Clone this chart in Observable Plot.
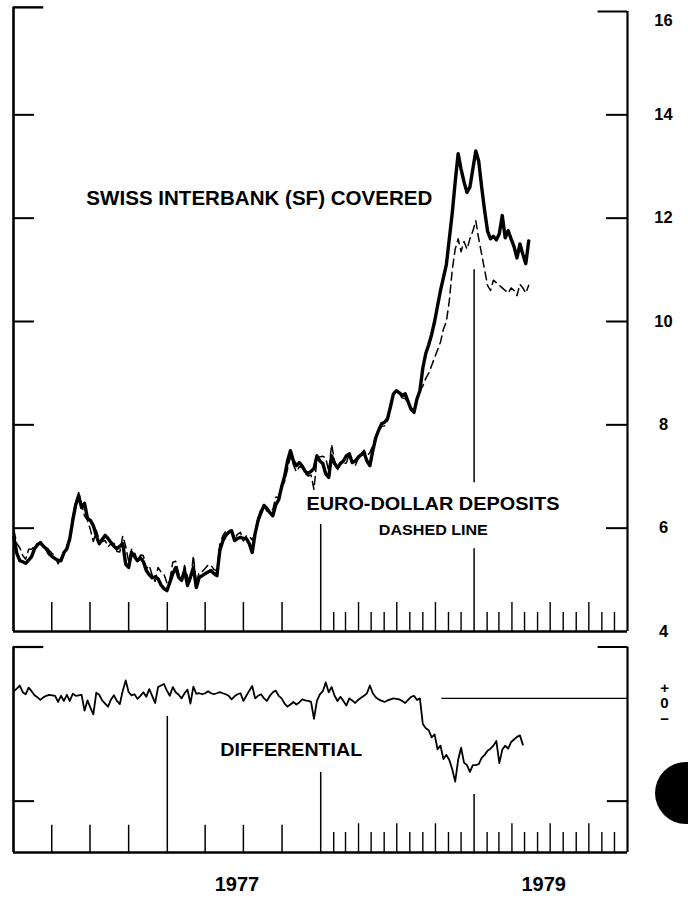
<!DOCTYPE html>
<html>
<head>
<meta charset="utf-8">
<script src="https://cdn.jsdelivr.net/npm/d3@7"></script>
<script src="https://cdn.jsdelivr.net/npm/@observablehq/plot@0.6"></script>
<style>
  html, body { margin: 0; padding: 0; background: #fff; }
  #chart { position: relative; width: 688px; height: 899px; overflow: hidden; background: #fff; }
  #top, #bottom { position: absolute; left: 0; }
  #top { top: 0; }
  #bottom { top: 640px; }
  #hole { position: absolute; left: 655px; top: 762px; width: 62px; height: 62px; border-radius: 50%; background: #000; }
</style>
</head>
<body>
<div id="chart"><div id="top"></div><div id="bottom"></div><div id="hole"></div></div>
<script>
// ---- Data (weekly, starting first week of January 1976) ----
const firstWeek = "1976-01-02";

// Swiss interbank (SF) covered rate, percent (solid line)
const swissCovered = [
  5.82,5.51,5.37,5.35,5.32,5.38,5.45,5.6,5.68,5.72,
  5.65,5.6,5.5,5.45,5.41,5.38,5.37,5.53,5.6,5.8,
  6.15,6.45,6.63,6.4,6.48,6.19,6.15,6.05,5.85,5.7,
  5.78,5.86,5.8,5.72,5.65,5.6,5.65,5.7,5.3,5.24,
  5.53,5.45,5.37,5.43,5.35,5.18,5.1,5.04,5.06,5.02,
  4.9,4.83,4.79,4.95,5.12,5.24,5.05,4.99,5.18,4.89,
  5.05,5.24,4.85,5.05,5.08,5.12,5.15,5.18,5.12,5.08,
  5.57,5.75,5.86,5.92,5.95,5.76,5.8,5.82,5.8,5.8,
  5.7,5.53,5.9,6.15,6.3,6.44,6.38,6.3,6.24,6.45,
  6.55,6.8,7.0,7.3,7.5,7.3,7.21,7.27,7.2,7.1,
  7.06,7.1,7.15,7.4,7.3,7.25,7.05,6.98,7.4,7.25,
  7.17,7.25,7.3,7.4,7.44,7.27,7.3,7.37,7.42,7.46,
  7.3,7.21,7.5,7.75,7.9,8.02,8.05,8.12,8.35,8.6,
  8.66,8.62,8.57,8.6,8.45,8.3,8.24,8.5,8.66,9.1,
  9.38,9.55,9.75,10.0,10.3,10.6,10.85,11.1,11.6,12.1,
  12.7,13.25,12.95,12.7,12.5,12.6,12.95,13.3,13.1,12.6,
  12.15,11.75,11.6,11.65,11.58,11.7,12.05,11.62,11.76,11.6,
  11.45,11.23,11.5,11.3,11.12,11.56
];

// Euro-dollar deposit rate, percent (dashed line)
const euroDollar = [
  5.96,5.70,5.62,5.47,5.40,5.59,5.59,5.66,5.70,5.69,
  5.67,5.65,5.57,5.51,5.46,5.31,5.42,5.48,5.67,5.75,
  6.24,6.50,6.69,6.47,6.24,6.15,5.97,5.74,5.96,5.77,
  5.74,5.76,5.64,5.70,5.71,5.55,5.54,5.85,5.65,5.36,
  5.59,5.53,5.36,5.48,5.47,5.21,5.28,5.09,4.97,5.24,
  5.15,5.11,4.94,5.00,5.34,5.36,5.12,4.99,5.28,5.06,
  4.95,5.47,4.94,5.15,5.16,5.22,5.29,5.28,5.20,5.18,
  5.69,5.85,5.94,5.97,5.93,5.80,5.88,5.92,5.75,5.85,
  5.85,5.77,5.90,6.20,6.38,6.44,6.33,6.35,6.36,6.60,
  6.60,6.80,6.90,7.14,7.38,7.23,7.09,7.19,7.18,7.06,
  7.01,7.03,6.75,7.35,7.38,7.39,7.36,7.10,7.62,7.30,
  7.12,7.28,7.25,7.26,7.44,7.23,7.21,7.34,7.43,7.51,
  7.40,7.46,7.60,7.77,7.88,7.97,7.98,8.08,8.33,8.60,
  8.65,8.60,8.52,8.51,8.42,8.33,8.29,8.47,8.66,8.75,
  8.9,9.0,9.15,9.3,9.45,9.6,9.85,10.0,10.4,11.0,
  11.4,11.6,11.35,11.55,11.4,11.6,11.75,11.95,11.6,11.3,
  11.0,10.7,10.6,10.8,10.75,10.7,10.65,10.6,10.55,10.65,
  10.6,10.5,10.72,10.65,10.55,10.7
];

// Differential, percentage points (lower panel)
const differential = [
  0.14,0.19,0.25,0.12,0.08,0.21,0.14,0.06,0.02,-0.03,
  0.02,0.05,0.07,0.06,0.05,-0.07,0.05,-0.05,0.07,-0.05,
  0.09,0.05,0.06,0.07,-0.24,-0.04,-0.18,-0.31,0.11,0.07,
  -0.04,-0.1,-0.16,-0.02,0.06,-0.05,-0.11,0.15,0.35,0.12,
  0.06,0.08,-0.01,0.05,0.12,0.03,0.18,0.05,-0.09,0.22,
  0.25,0.28,0.15,0.05,0.22,0.12,0.07,0.0,0.1,0.17,
  -0.1,0.23,0.09,0.1,0.08,0.1,0.14,0.1,0.08,0.1,
  0.12,0.1,0.08,0.05,-0.02,0.04,0.08,0.1,-0.05,0.05,
  0.15,0.24,0.0,0.05,0.08,0.0,-0.05,0.05,0.12,0.15,
  0.05,0.0,-0.1,-0.16,-0.12,-0.07,-0.12,-0.08,-0.02,-0.04,
  -0.05,-0.07,-0.4,-0.05,0.08,0.14,0.31,0.12,0.22,0.05,
  -0.05,0.03,-0.05,-0.14,0.0,-0.04,-0.09,-0.03,0.01,0.05,
  0.1,0.25,0.1,0.02,-0.02,-0.05,-0.07,-0.04,-0.02,0.0,
  -0.01,-0.02,-0.05,-0.09,-0.03,0.03,0.05,-0.03,0.0,-0.5,
  -0.58,-0.62,-0.76,-0.7,-0.99,-0.92,-1.18,-1.1,-1.2,-1.38,
  -1.62,-1.2,-0.96,-1.25,-1.3,-1.43,-1.3,-1.3,-1.28,-1.16,
  -1.1,-1.02,-0.98,-0.92,-0.83,-1.26,-1.0,-0.92,-0.98,-0.85,
  -0.8,-0.75,-0.72,-0.9
];

const rateTicks = [4, 6, 8, 10, 12, 14, 16];
const sideTicks = [6, 8, 10, 12, 14];
const yearLabels = ["1977", "1979"];
const seriesLabel = "SWISS INTERBANK (SF) COVERED";
const euroLabel = "EURO-DOLLAR DEPOSITS";
const euroNote = "DASHED LINE";
const diffLabel = "DIFFERENTIAL";
const signLabel = "+\n0\n\u2212";

// ---- Build tables ----
const utc = (y, m, d = 1) => new Date(Date.UTC(y, m, d));
const X0 = utc(1976, 0), X1 = utc(1980, 0);
const day = (d, n) => d3.utcDay.offset(d, n);
const week0 = new Date(firstWeek + "T00:00:00Z");
const weekDate = i => d3.utcDay.offset(week0, 7 * i);

const rates = swissCovered.map((v, i) => ({date: weekDate(i), swiss: v, euro: euroDollar[i]}));
const diffs = differential.map((v, i) => ({date: weekDate(i), value: v}));

const jan77 = utc(1977, 0), jan78 = utc(1978, 0), jan79 = utc(1979, 0);
const quarterTicks = d3.utcMonth.range(utc(1976, 3), jan78, 3);          // Apr 76 .. Oct 77
const quarterTicksLow = quarterTicks.filter(d => +d !== +jan77);
const monthTicks = d3.utcMonth.range(jan78, X1).filter(d => d.getUTCMonth() !== 0);
const tallMonths = monthTicks.filter(d => d.getUTCMonth() % 3 === 0);
const shortMonths = monthTicks.filter(d => d.getUTCMonth() % 3 !== 0);
const yearLabelDates = yearLabels.map(y => utc(+y, 6));

const font = "'Liberation Sans', Arial, Helvetica, sans-serif";
const style = {fontFamily: font, background: "transparent", color: "#000", overflow: "visible"};
const xScale = {type: "utc", domain: [X0, X1], axis: null};

// ---- Upper panel ----
const topPlot = Plot.plot({
  width: 688, height: 640,
  marginLeft: 13, marginRight: 61, marginTop: 11, marginBottom: 9,
  x: xScale,
  y: {domain: [4, 16], axis: null},
  style,
  marks: [
    // frame
    Plot.ruleX([X0], {y1: 4, y2: 16.08, strokeWidth: 2.6}),
    Plot.ruleY([16.08], {x1: X0, x2: day(X0, 72), strokeWidth: 2.4}),
    Plot.ruleY(sideTicks, {x1: X0, x2: day(X0, 50), strokeWidth: 2}),
    Plot.ruleX([X1], {y1: 4, y2: 16, strokeWidth: 2.2}),
    Plot.ruleY([16], {x1: day(X1, -70), x2: X1, strokeWidth: 2}),
    Plot.ruleY(sideTicks, {x1: day(X1, -50), x2: X1, strokeWidth: 2}),
    Plot.ruleY([4], {x1: X0, x2: X1, strokeWidth: 2.4}),
    // time ticks
    Plot.ruleX(quarterTicks, {y1: 4, y2: 4.56, strokeWidth: 1.5}),
    Plot.ruleX(tallMonths, {y1: 4, y2: 4.56, strokeWidth: 1.4}),
    Plot.ruleX(shortMonths, {y1: 4, y2: 4.37, strokeWidth: 1.4}),
    Plot.ruleX([jan78], {y1: 4, y2: 6.07, strokeWidth: 1.5}),
    Plot.ruleX([jan79], {y1: 4, y2: 5.6, strokeWidth: 1.5}),
    Plot.ruleX([jan79], {y1: 6.88, y2: 11.0, strokeWidth: 1.5}),
    // series
    Plot.line(rates, {x: "date", y: "euro", strokeWidth: 1.5, strokeDasharray: "8,5"}),
    Plot.line(rates, {x: "date", y: "swiss", strokeWidth: 3.4, strokeLinejoin: "round"}),
    // right-hand scale labels
    Plot.text(rateTicks.filter(d => d < 16), {x: X1, y: d => d, text: d => String(d), dx: 36, textAnchor: "middle", fontSize: 16.5, fontWeight: "bold"}),
    Plot.text(rateTicks.filter(d => d === 16), {x: X1, y: d => d, text: d => String(d), dx: 36, dy: 9, textAnchor: "middle", fontSize: 16.5, fontWeight: "bold"}),
    // annotations
    Plot.text([seriesLabel], {x: utc(1977, 7, 8), y: 12.38, fontSize: 19.5, fontWeight: "bold"}),
    Plot.text([euroLabel], {x: utc(1978, 8, 25), y: 6.47, fontSize: 18, fontWeight: "bold"}),
    Plot.text([euroNote], {x: utc(1978, 8, 26), y: 5.96, fontSize: 15, fontWeight: "bold"})
  ]
});

// ---- Lower panel ----
const bottomPlot = Plot.plot({
  width: 688, height: 259,
  marginLeft: 13, marginRight: 61, marginTop: 6.5, marginBottom: 47,
  x: xScale,
  y: {domain: [-3, 1], axis: null},
  style,
  marks: [
    Plot.ruleX([X0], {y1: -3, y2: 1, strokeWidth: 2.6}),
    Plot.ruleY([1], {x1: X0, x2: day(X0, 72), strokeWidth: 2.2}),
    Plot.ruleY([-2], {x1: X0, x2: day(X0, 50), strokeWidth: 2}),
    Plot.ruleX([X1], {y1: -3, y2: 1, strokeWidth: 2.2}),
    Plot.ruleY([1], {x1: day(X1, -70), x2: X1, strokeWidth: 2}),
    Plot.ruleY([-2], {x1: day(X1, -48), x2: X1, strokeWidth: 2}),
    Plot.ruleY([-3], {x1: X0, x2: X1, strokeWidth: 2.4}),
    Plot.ruleY([0], {x1: utc(1978, 9, 16), x2: X1, strokeWidth: 1.4}),
    Plot.ruleX(quarterTicksLow, {y1: -3, y2: -2.47, strokeWidth: 1.5}),
    Plot.ruleX(tallMonths, {y1: -3, y2: -2.44, strokeWidth: 1.4}),
    Plot.ruleX(shortMonths, {y1: -3, y2: -2.61, strokeWidth: 1.4}),
    Plot.ruleX([jan77], {y1: -3, y2: -0.35, strokeWidth: 1.5}),
    Plot.ruleX([jan78], {y1: -3, y2: -1.44, strokeWidth: 1.5}),
    Plot.ruleX([jan79], {y1: -3, y2: -1.87, strokeWidth: 1.5}),
    Plot.line(diffs, {x: "date", y: "value", strokeWidth: 1.8, strokeLinejoin: "round"}),
    Plot.text([diffLabel], {x: utc(1977, 9, 23), y: -1.01, fontSize: 18, fontWeight: "bold"}),
    Plot.text([signLabel], {x: X1, y: 0, dx: 37, dy: 5, textAnchor: "middle", fontSize: 15, lineHeight: 1.02, fontWeight: "bold"}),
    Plot.axisX(yearLabelDates, {anchor: "bottom", tickSize: 0, tickPadding: 24, dx: -6.5,
      tickFormat: d => String(d.getUTCFullYear()), fontSize: 20, fontWeight: "bold"})
  ]
});

// fit label widths to the original lettering
const widths = {[seriesLabel]: 346, [euroLabel]: 253, [euroNote]: 109, [diffLabel]: 142};
for (const svg of [topPlot, bottomPlot]) {
  d3.select(svg).selectAll("text").each(function () {
    const w = widths[this.textContent];
    if (w) d3.select(this).attr("textLength", w).attr("lengthAdjust", "spacingAndGlyphs");
  });
}

document.getElementById("top").appendChild(topPlot);
document.getElementById("bottom").appendChild(bottomPlot);
</script>
</body>
</html>
